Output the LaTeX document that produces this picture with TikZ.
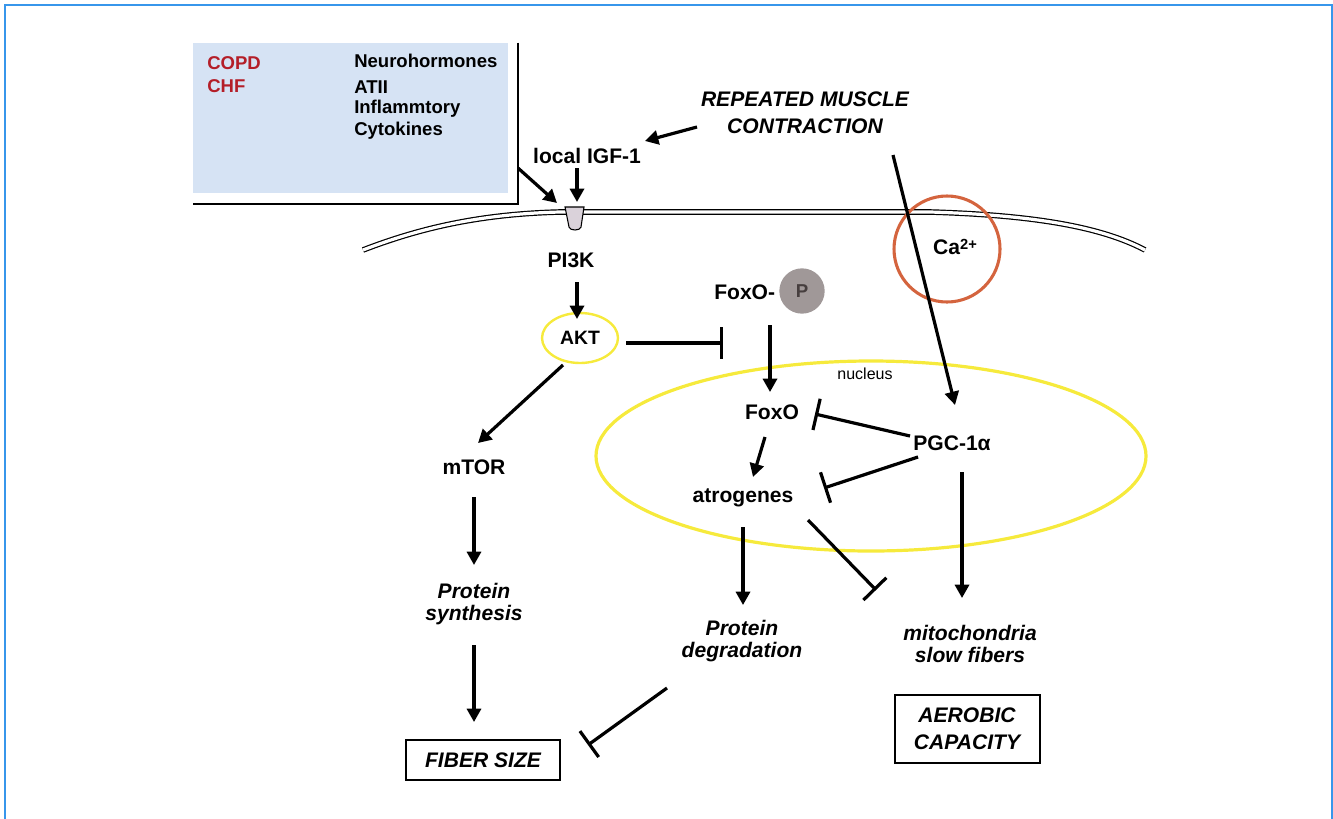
\documentclass[tikz,border=0pt]{standalone}
\usepackage{fontspec}
\setmainfont{Liberation Sans}
\usetikzlibrary{arrows.meta,calc}
\definecolor{bordblue}{RGB}{55,150,235}
\definecolor{boxblue}{RGB}{214,227,244}
\definecolor{dred}{RGB}{180,30,40}
\definecolor{nucyel}{RGB}{246,234,60}
\definecolor{caorange}{RGB}{212,100,62}
\definecolor{pgray}{RGB}{160,152,152}
\definecolor{ptext}{RGB}{70,62,62}
\definecolor{recfill}{RGB}{218,210,218}
\begin{document}
\begin{tikzpicture}[x=0.75pt,y=-0.75pt,
  lbl/.style={font=\fontsize{15.8}{19}\selectfont\bfseries, inner sep=0pt, align=center},
  ilbl/.style={font=\fontsize{15.8}{16.5}\selectfont\bfseries\itshape, inner sep=0pt, align=center},
  boxtxt/.style={font=\fontsize{13.9}{16}\selectfont\bfseries, inner sep=0pt, anchor=base west},
  arr/.style={line width=2.4pt, -{Triangle[length=10pt,width=10.5pt]}},
  inh/.style={line width=2.4pt, -{Bar[width=24pt,line width=2.4pt]}},
  framebox/.style={draw, line width=1.5pt, inner sep=0pt}
]
\useasboundingbox (0,0) rectangle (1333,818);
\clip (0,0) rectangle (1333,818);
% outer border
\draw[bordblue, line width=2.2pt] (5,840) -- (5,5) -- (1332,5) -- (1332,840);

% top-left box
\node[fill=boxblue, minimum width=236.25pt, minimum height=112.5pt, inner sep=0pt] (boxfill) at (350.5,118) {};
\draw[line width=1.6pt] ($(boxfill.north east)+(10,0)$) -- ($(boxfill.south east)+(10,11)$) -- ($(boxfill.south west)+(0,11)$);
\node[boxtxt, text=dred] (copd) at (207,69) {COPD};
\node[boxtxt, text=dred] (chf) at (207,92) {CHF};
\node[boxtxt] (neuro) at (354,67) {Neurohormones};
\node[boxtxt] (atii) at (354,93) {ATII};
\node[boxtxt] (infl) at (354,113) {Inflammtory};
\node[boxtxt] (cyto) at (354,135) {Cytokines};

% nucleus
\draw[nucyel, line width=2.4pt] (871,456) ellipse [x radius=206.25pt, y radius=71.25pt];
\node[font=\fontsize{12}{14}\selectfont, inner sep=0pt] (nucleus) at (865,374) {nucleus};

% membrane
\draw[line width=0.9pt, double=white, double distance=2.4pt]
  (363,250) .. controls (420,228) and (480,214) .. (560,212) -- (930,212)
  .. controls (1030,215) and (1100,226) .. (1145,250);

% receptor
\coordinate (rec) at (575,207);
\draw[fill=recfill, line width=0.8pt] ($(rec)+(-10,0)$) -- ($(rec)+(9,0)$) -- ($(rec)+(6,20)$)
  .. controls ($(rec)+(5,24)$) and ($(rec)+(-5,24)$) .. ($(rec)+(-6,20)$) -- cycle;

% Ca circle
\draw[caorange, line width=2.3pt] (947,249) circle [radius=39.75pt];
\node[lbl, font=\fontsize{15.8}{19}\selectfont\bfseries] (ca) at (955,247) {Ca\raisebox{0.45ex}{\fontsize{11}{12}\selectfont 2+}};

% labels
\node[ilbl] (repeated) at (805,113) {REPEATED MUSCLE\\[4pt]CONTRACTION};
\node[lbl] (igf) at (587,156) {local IGF-1};
\node[lbl] (pi3k) at (571,260) {PI3K};
\node[lbl, anchor=west] (foxop) at (714,292) {FoxO-};
\node[circle, fill=pgray, minimum size=34pt, inner sep=0pt, text=ptext, font=\fontsize{14}{16}\selectfont\bfseries] (pcirc) at (802,291) {P};
\node[lbl, font=\fontsize{14.5}{17}\selectfont\bfseries] (akt) at (580,338) {AKT};
\draw[nucyel, line width=1.8pt] (akt) ellipse [x radius=28.5pt, y radius=18.75pt];
\node[lbl] (mtor) at (474,467) {mTOR};
\node[lbl] (foxo) at (772,412) {FoxO};
\node[lbl] (atro) at (743,498) {atrogenes};
\node[lbl] (pgc) at (952,443) {PGC-1α};
\node[ilbl] (psyn) at (474,604) {Protein\\synthesis};
\node[ilbl] (pdeg) at (742,641) {Protein\\degradation};
\node[ilbl] (mito) at (970,644) {mitochondria\\slow fibers};
\node[framebox, ilbl, draw, minimum width=115.5pt, minimum height=30pt] (fiber) at (483,760) {FIBER SIZE};
\node[framebox, font=\fontsize{15.8}{20}\selectfont\bfseries\itshape, align=center, minimum width=108.75pt, minimum height=51pt] (aero) at (967,729) {AEROBIC\\CAPACITY};

% connectors
\draw[arr] ($(boxfill.south east)+(10,-25)$) -- ($(rec)+(-18,-4)$);
\draw[arr] ($(igf)+(-10,12)$) -- ($(rec)+(2,-5)$);
\draw[arr] ($(repeated)+(-108,14)$) -- ($(igf)+(58,-15)$);
\draw[arr] ($(pi3k)+(6,22)$) -- ($(akt)+(-3,-19)$);
\draw[inh] ($(akt)+(46,5)$) -- ($(akt)+(143,5)$);
\draw[arr] ($(foxo)+(-2,-87)$) -- ($(foxo)+(-2,-20)$);
\draw[arr] ($(akt)+(-17,27)$) -- ($(mtor)+(4,-24)$);
\draw[arr] ($(mtor)+(0,30)$) -- ($(psyn)+(0,-39)$);
\draw[arr] ($(psyn)+(0,41)$) -- ($(fiber)+(-9,-38)$);
\draw[inh] ($(pdeg)+(-75,47)$) -- ($(fiber)+(105,-15)$);
\draw[arr] ($(foxo)+(-7,25)$) -- ($(atro)+(10,-21)$);
\draw[inh] ($(pgc)+(-42,-7)$) -- ($(foxo)+(43,2)$);
\draw[inh] ($(pgc)+(-34,14)$) -- ($(atro)+(81,-10)$);
\draw[arr] ($(pgc)+(10,29)$) -- ($(mito)+(-8,-46)$);
\draw[arr] ($(atro)+(0,29)$) -- ($(pdeg)+(1,-36)$);
\draw[inh] ($(atro)+(65,22)$) -- ($(mito)+(-94,-54)$);
\draw[arr] ($(repeated)+(88,42)$) -- ($(pgc)+(3,-38)$);
\end{tikzpicture}
\end{document}
